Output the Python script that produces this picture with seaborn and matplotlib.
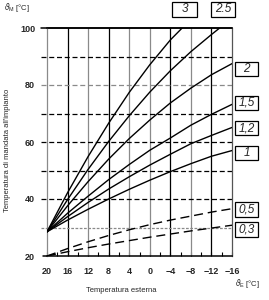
import matplotlib
matplotlib.use("Agg")
import matplotlib.pyplot as plt
from matplotlib.patches import Rectangle
import seaborn as sns
import pandas as pd

# ---- data ----
temp_ext = [20, 16, 12, 8, 4, 0, -4, -8, -12, -16]
temp_ext_k3 = [20, 16, 12, 8, 4, 0, -4, -6.3]
temp_ext_k25 = [20, 16, 12, 8, 4, 0, -4, -8, -12, -13.6]

curve_3 = [28.5, 42.2, 54.9, 66.6, 77.4, 87.1, 95.8, 100.0]
curve_25 = [28.5, 39.8, 50.4, 60.2, 69.2, 77.5, 85.0, 91.7, 97.7, 100.0]
curve_2 = [28.5, 37.6, 46.1, 54.0, 61.2, 67.7, 73.7, 78.9, 83.6, 87.5]
curve_15 = [28.5, 35.0, 41.0, 46.8, 52.1, 57.1, 61.4, 65.9, 69.7, 73.2]
curve_12 = [28.5, 33.8, 38.8, 43.5, 47.8, 51.9, 55.7, 59.4, 62.3, 65.1]
curve_1 = [28.5, 32.6, 36.4, 40.0, 43.4, 46.6, 49.6, 52.4, 55.0, 57.0]
curve_05 = [20.0, 22.6, 25.0, 27.2, 29.2, 31.0, 32.6, 34.0, 35.4, 36.6]
curve_03 = [20.0, 21.5, 22.9, 24.2, 25.4, 26.6, 27.7, 28.8, 29.8, 30.8]

x_ticks = [20, 16, 12, 8, 4, 0, -4, -8, -12, -16]
x_tick_labels = ["20", "16", "12", "8", "4", "0", "\u2212\u20094".replace("\u2009", ""), "\u22128", "\u221212", "\u221216"]
y_ticks = [20, 40, 60, 80, 100]
y_tick_labels = ["20", "40", "60", "80", "100"]
curve_labels = ["3", "2.5", "2", "1,5", "1,2", "1", "0,5", "0,3"]

# ---- style ----
sns.set_style("white")
plt.rcParams["font.family"] = ["Liberation Sans", "DejaVu Sans"]
plt.rcParams["mathtext.fontset"] = "dejavusans"

W, H = 269, 300
fig = plt.figure(figsize=(W / 100, H / 100), dpi=100)
ax = fig.add_axes([47 / W, 44 / H, 185 / W, 228 / H])

# grid: vertical solid lines, alternating black / grey
v_cols = {16: "black", 12: "#8a8a8a", 8: "black", 4: "#8a8a8a", 0: "#8a8a8a",
          -4: "black", -8: "#8a8a8a", -12: "black"}
for xv, c in v_cols.items():
    ax.axvline(xv, color=c, lw=0.9, zorder=1)

# horizontal dashed lines extending a little left of the axis
h_cols = {30: ("#8a8a8a", (0, (2.2, 1.2))), 40: ("black", (0, (4, 2.2))),
          50: ("black", (0, (4, 2.2))), 60: ("black", (0, (4, 2.2))),
          70: ("black", (0, (4, 2.2))), 80: ("#8a8a8a", (0, (4, 2.2))),
          90: ("black", (0, (4, 2.2)))}
ytr = ax.get_yaxis_transform()
for yv, (c, ls) in h_cols.items():
    ax.plot([-0.035, 1.0], [yv, yv], transform=ytr, color=c, lw=0.9,
            linestyle=ls, clip_on=False, zorder=1)
ax.plot([-0.035, 1.0], [100, 100], transform=ytr, color="black", lw=1.1,
        clip_on=False, zorder=2)
ax.plot([-0.02, 0.0], [20, 20], transform=ytr, color="black", lw=1.1,
        clip_on=False, zorder=2)

# curves
solid = [(temp_ext_k3, curve_3), (temp_ext_k25, curve_25), (temp_ext, curve_2),
         (temp_ext, curve_15), (temp_ext, curve_12), (temp_ext, curve_1)]
for xs, ys in solid:
    sns.lineplot(x=xs, y=ys, ax=ax, color="black", lw=1.0, zorder=3,
                 estimator=None, sort=False)
for ys in (curve_05, curve_03):
    sns.lineplot(x=temp_ext, y=ys, ax=ax, color="black", lw=1.0, zorder=3,
                 estimator=None, sort=False, linestyle=(0, (6.5, 3.5)))

ax.set_xlim(20, -16)
ax.set_ylim(20, 100)

# spines
ax.spines["top"].set_color("black")
ax.spines["top"].set_linewidth(1.1)
ax.spines["bottom"].set_color("black")
ax.spines["bottom"].set_linewidth(1.1)
ax.spines["left"].set_color("#8a8a8a")
ax.spines["left"].set_linewidth(0.9)
ax.spines["right"].set_color("#555555")
ax.spines["right"].set_linewidth(0.9)

# ticks
ax.set_xticks(x_ticks)
ax.set_xticks(list(range(18, -16, -4)), minor=True)
ax.set_xticklabels(x_tick_labels, fontsize=6.5, fontweight="bold")
ax.tick_params(axis="x", which="both", direction="in", length=3, width=0.8,
               color="black", pad=8, bottom=True)
ax.set_yticks(y_ticks)
ax.set_yticklabels(y_tick_labels, fontsize=6.5, fontweight="bold")
ax.tick_params(axis="y", which="both", length=0, pad=8.5, left=False)
ax.set_xlabel("")
ax.set_ylabel("")

# texts
fig.text(121.5 / W, 1 - 290 / H, "Temperatura esterna", fontsize=5.5,
         ha="center", va="center")
fig.text(8 / W, 1 - 150 / H, "Temperatura di mandata all'impianto",
         fontsize=5.5, rotation=90, ha="center", va="center")
fig.text(4 / W, 1 - 8 / H, r"$\vartheta_{\mathregular{M}}$ [°C]", fontsize=5.5,
         ha="left", va="center")
fig.text(235 / W, 1 - 283 / H, r"$\vartheta_{\mathregular{E}}$ [°C]", fontsize=5.5,
         ha="left", va="center")

# boxed curve labels (left, top, width, height in px)
boxes = [(172, 2, 25, 15), (211, 2, 24, 15), (235, 62, 23, 14),
         (235, 96, 23, 14), (235, 121, 23, 14), (235, 146, 23, 14),
         (235, 202, 23, 15), (235, 222, 23, 15)]
for lab, (bx, by, bw, bh) in zip(curve_labels, boxes):
    fig.add_artist(Rectangle((bx / W, 1 - (by + bh) / H), bw / W, bh / H,
                             transform=fig.transFigure, fill=False,
                             ec="black", lw=0.9))
    fig.text((bx + bw / 2) / W, 1 - (by + bh / 2) / H, lab, fontsize=8.5,
             ha="center", va="center", style="italic")

fig.savefig("out.png", dpi=100)
